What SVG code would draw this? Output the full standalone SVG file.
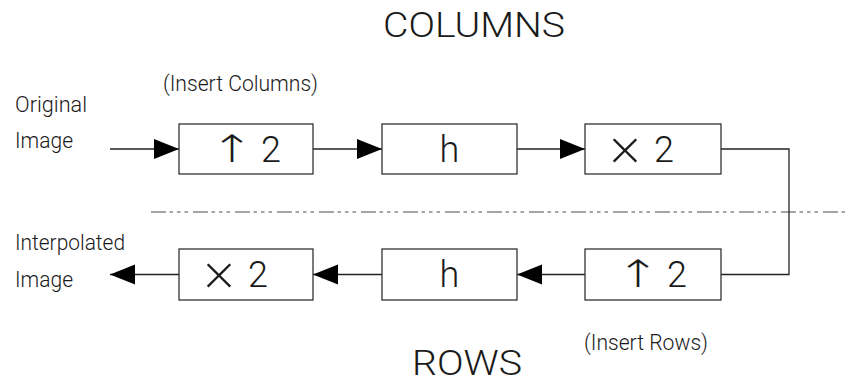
<svg xmlns="http://www.w3.org/2000/svg" width="849" height="385" viewBox="0 0 849 385">
  <defs>
    <marker id="arrow" markerUnits="userSpaceOnUse" markerWidth="26" markerHeight="22" refX="25" refY="10" orient="auto">
      <path d="M0,0 L25,10 L0,20 Z" fill="#000"/>
    </marker>
    <style>
      text { font-family: Roboto, "Open Sans", "Liberation Sans", Arial, sans-serif; font-weight: 300; fill: #1a1a1a; }
      .lbl { font-size: 22px; }
      .title { font-size: 35px; }
      .op { font-size: 36px; }
      .up { font-family: "DejaVu Sans", sans-serif; font-weight: 200; font-size: 38px; }
      .times { font-family: "Open Sans", "Liberation Sans", sans-serif; font-size: 56px; }
      .box { fill: #fff; stroke: #333; stroke-width: 1.3; }
      .wire { fill: none; stroke: #222; stroke-width: 1.3; }
      .divider { fill: none; stroke: #888; stroke-width: 1.5; stroke-dasharray: 15 3.5 3.5 4 3.5 4 3.5 5; }
    </style>
  </defs>

  <rect width="849" height="385" fill="#fff"/>

  <!-- section titles and side labels -->
  <text class="title" x="383" y="37" textLength="182" lengthAdjust="spacingAndGlyphs">COLUMNS</text>
  <text class="title" x="412" y="375" textLength="110" lengthAdjust="spacingAndGlyphs">ROWS</text>
  <text class="lbl" x="163" y="91" textLength="155" lengthAdjust="spacingAndGlyphs">(Insert Columns)</text>
  <text class="lbl" x="584" y="350" textLength="124" lengthAdjust="spacingAndGlyphs">(Insert Rows)</text>
  <text class="lbl" x="15" y="112" textLength="72" lengthAdjust="spacingAndGlyphs">Original</text>
  <text class="lbl" x="15" y="148" textLength="58" lengthAdjust="spacingAndGlyphs">Image</text>
  <text class="lbl" x="15" y="250" textLength="110" lengthAdjust="spacingAndGlyphs">Interpolated</text>
  <text class="lbl" x="15" y="287" textLength="58" lengthAdjust="spacingAndGlyphs">Image</text>

  <!-- dash-dot separator between the column and row passes -->
  <line class="divider" x1="151" y1="212" x2="849" y2="212"/>

  <!-- connectors -->
  <g id="connectors">
    <line class="wire" x1="110" y1="149" x2="179" y2="149" marker-end="url(#arrow)"/>
    <line class="wire" x1="313" y1="149" x2="382" y2="149" marker-end="url(#arrow)"/>
    <line class="wire" x1="517" y1="149" x2="585" y2="149" marker-end="url(#arrow)"/>
    <polyline class="wire" points="721,149 789,149 789,274.5 721,274.5"/>
    <line class="wire" x1="585" y1="274.5" x2="517" y2="274.5" marker-end="url(#arrow)"/>
    <line class="wire" x1="382" y1="274.5" x2="313" y2="274.5" marker-end="url(#arrow)"/>
    <line class="wire" x1="179" y1="274.5" x2="110" y2="274.5" marker-end="url(#arrow)"/>
  </g>

  <!-- column pass -->
  <g id="up-cols">
    <rect class="box" x="179" y="124" width="134" height="50"/>
    <text class="up" x="210" y="162" textLength="44" lengthAdjust="spacingAndGlyphs">↑</text>
    <text class="op" x="261" y="162">2</text>
  </g>
  <g id="filter-cols">
    <rect class="box" x="382" y="124" width="135" height="50"/>
    <text class="op" x="449.5" y="162" text-anchor="middle">h</text>
  </g>
  <g id="scale-cols">
    <rect class="box" x="585" y="124" width="136" height="50"/>
    <text class="times" x="609" y="170">×</text>
    <text class="op" x="654" y="162">2</text>
  </g>

  <!-- row pass -->
  <g id="up-rows">
    <rect class="box" x="585" y="249" width="136" height="51"/>
    <text class="up" x="616" y="287" textLength="44" lengthAdjust="spacingAndGlyphs">↑</text>
    <text class="op" x="667" y="287">2</text>
  </g>
  <g id="filter-rows">
    <rect class="box" x="382" y="249" width="135" height="51"/>
    <text class="op" x="449.5" y="287" text-anchor="middle">h</text>
  </g>
  <g id="scale-rows">
    <rect class="box" x="179" y="249" width="134" height="51"/>
    <text class="times" x="203" y="295">×</text>
    <text class="op" x="248" y="287">2</text>
  </g>
</svg>
